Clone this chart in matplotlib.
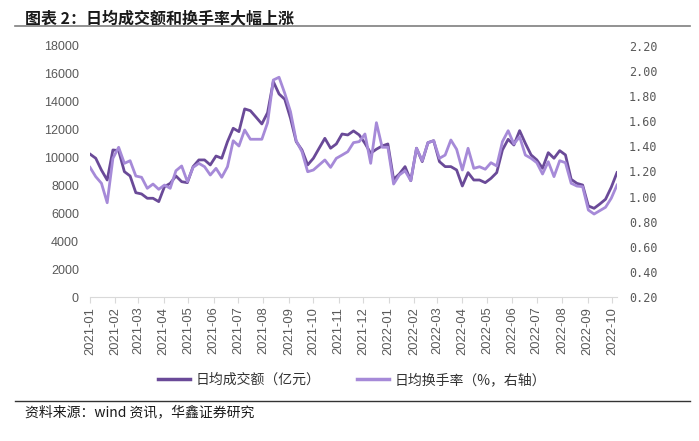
import matplotlib
matplotlib.use("Agg")
import matplotlib.pyplot as plt
import pandas as pd
from matplotlib.lines import Line2D

# ---------------- data ----------------
dates = pd.date_range("2021-01-01", periods=93, freq="7D")

volume = [10250, 9950, 9100, 8390, 10545, 10495, 8990, 8680, 7480, 7390,
          7080, 7080, 6840, 7910, 8150, 8680, 8270, 8200, 9350, 9830,
          9830, 9470, 10110, 9950, 11140, 12100, 11860, 13490, 13360, 12890,
          12410, 13220, 15450, 14560, 14180, 12820, 11140, 10545, 9470, 9950,
          10670, 11380, 10670, 10975, 11690, 11620, 11910, 11620, 11020, 10310,
          10600, 10830, 10975, 8440, 8820, 9350, 8340, 10670, 9710, 11070,
          11210, 9710, 9350, 9350, 9110, 7960, 8920, 8390, 8390, 8200,
          8510, 8920, 10545, 11310, 10900, 11930, 11020, 10190, 9830, 9230,
          10350, 9950, 10495, 10190, 8440, 8150, 8030, 6530, 6360, 6670,
          7010, 7870, 8920]

turnover = [1.233, 1.159, 1.106, 0.951, 1.305, 1.393, 1.265, 1.286, 1.164, 1.154,
            1.066, 1.100, 1.058, 1.092, 1.066, 1.206, 1.244, 1.119, 1.233, 1.265,
            1.238, 1.172, 1.225, 1.154, 1.238, 1.445, 1.403, 1.531, 1.457, 1.457,
            1.457, 1.589, 1.929, 1.951, 1.823, 1.677, 1.445, 1.358, 1.198, 1.212,
            1.252, 1.292, 1.233, 1.305, 1.331, 1.358, 1.430, 1.438, 1.499, 1.265,
            1.589, 1.393, 1.393, 1.100, 1.172, 1.206, 1.127, 1.385, 1.286, 1.430,
            1.445, 1.305, 1.331, 1.451, 1.377, 1.212, 1.385, 1.225, 1.238, 1.218,
            1.270, 1.244, 1.438, 1.525, 1.419, 1.477, 1.331, 1.305, 1.270, 1.180,
            1.278, 1.159, 1.286, 1.270, 1.106, 1.084, 1.079, 0.893, 0.861, 0.888,
            0.915, 0.987, 1.092]

month_ticks = pd.date_range("2021-01-01", "2022-10-01", freq="MS")
left_ticks = list(range(0, 18001, 2000))
right_ticks = [0.2, 0.4, 0.6, 0.8, 1.0, 1.2, 1.4, 1.6, 1.8, 2.0, 2.2]

title = "图表 2：日均成交额和换手率大幅上涨"
source = "资料来源：wind 资讯，华鑫证券研究"
label_vol = "日均成交额（亿元）"
label_to = "日均换手率（%，右轴）"

# ---------------- style ----------------
CJK = ["Noto Sans CJK SC", "DejaVu Sans"]
DARK = "#6a4a98"
LIGHT = "#a68ad8"
GRAY = "#595959"

W, H = 699, 441
fig = plt.figure(figsize=(W / 100, H / 100), dpi=100)

L, R, T, B = 90, 617, 46, 297
ax = fig.add_axes([L / W, 1 - B / H, (R - L) / W, (B - T) / H])
ax2 = ax.twinx()

ax.plot(dates, volume, color=DARK, lw=2.0, solid_joinstyle="round", zorder=3)
ax2.plot(dates, turnover, color=LIGHT, lw=2.0, solid_joinstyle="round", zorder=3)

ax.set_ylim(0, 18000)
ax2.set_ylim(0.2, 2.2)
ax.set_xlim(pd.Timestamp("2021-01-01"), pd.Timestamp("2022-10-07"))

ax.set_yticks(left_ticks)
ax.set_yticklabels([str(v) for v in left_ticks], fontfamily="Liberation Sans",
                   fontsize=9, color=GRAY)
ax2.set_yticks(right_ticks)
ax2.set_yticklabels([f"{v:.2f}" for v in right_ticks], fontfamily="DejaVu Sans Mono",
                    fontsize=8.5, color=GRAY)

ax.set_xticks(month_ticks)
ax.set_xticklabels([d.strftime("%Y-%m") for d in month_ticks], rotation=90,
                   fontfamily="Liberation Sans", fontsize=9.3, color=GRAY)

for a in (ax, ax2):
    for s in ("top", "left", "right", "bottom"):
        a.spines[s].set_visible(False)
ax.spines["bottom"].set_visible(True)
ax.spines["bottom"].set_color("#d9d9d9")
ax.spines["bottom"].set_linewidth(0.8)

ax.tick_params(axis="y", length=0, pad=8)
ax2.tick_params(axis="y", length=0, pad=8.5)
ax.tick_params(axis="x", length=4, width=0.8, color="#d9d9d9", pad=3)

# title & rules
fig.text(25 / W, 1 - 18 / H, title, fontfamily=CJK, fontsize=11.5,
         fontweight="bold", va="center", ha="left", color="#1a1a1a")
fig.add_artist(Line2D([15 / W, 690 / W], [1 - 26 / H, 1 - 26 / H],
                      color="#7f7f7f", lw=1.2))
fig.add_artist(Line2D([15 / W, 690 / W], [1 - 401 / H, 1 - 401 / H],
                      color="#333333", lw=1.0))
fig.text(25 / W, 1 - 412 / H, source, fontfamily=CJK, fontsize=10,
         va="center", ha="left", color="#1a1a1a")

# legend
handles = [Line2D([], [], color=DARK, lw=2.5), Line2D([], [], color=LIGHT, lw=2.5)]
fig.legend(handles, [label_vol, label_to], loc="center",
           bbox_to_anchor=(352 / W, 1 - 380 / H), ncol=2, frameon=False,
           prop={"family": CJK, "size": 10}, handlelength=2.3,
           handletextpad=0.45, columnspacing=2.6, labelcolor="#333333")

fig.savefig("out.png", dpi=100, facecolor="white")
